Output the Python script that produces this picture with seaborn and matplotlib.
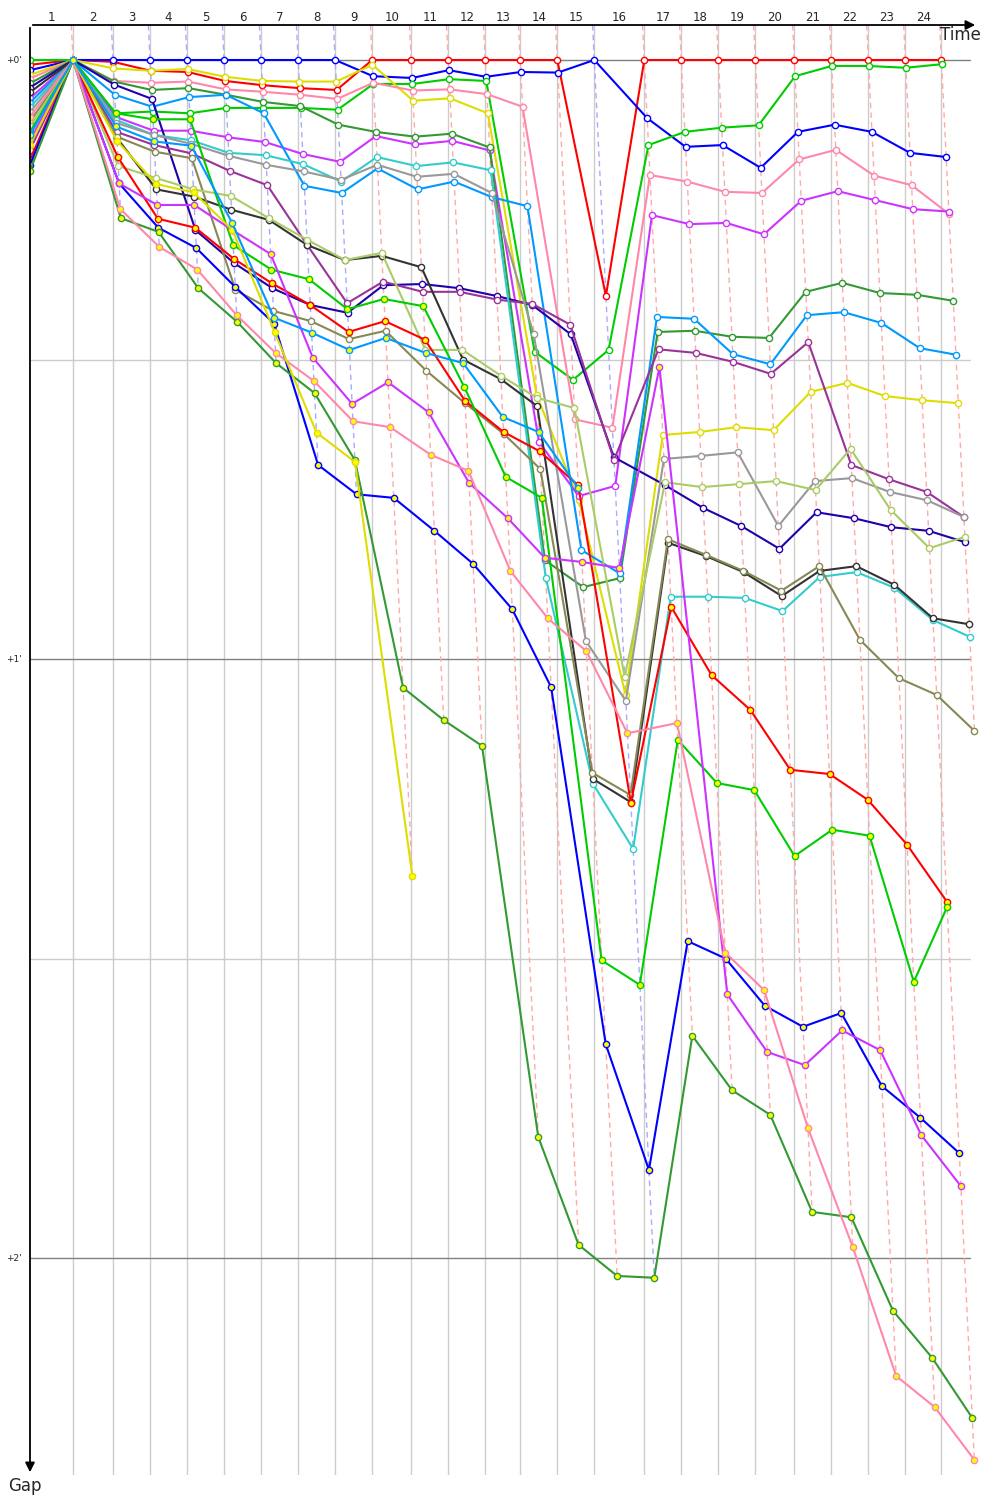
import numpy as np
import pandas as pd
import matplotlib
matplotlib.use("Agg")
import matplotlib.pyplot as plt
import matplotlib.transforms as mtransforms
import seaborn as sns

nan = np.nan

# leader lap times (seconds), laps 1..24
laps = list(range(1, 25))
lap_seconds = [87.5, 81.4, 75.3, 75.3, 75.3, 75.3, 75.3, 75.3, 75.3, 79.3, 75.3, 75.3,
               71.2, 75.3, 75.3, 101.7, 75.3, 75.3, 75.3, 79.3, 75.3, 75.3, 75.3, 73.2]

# gap to leader in minutes, index 0 = grid, then end of each lap
red_w = [0.008, 0, 0.003, 0.018, 0.02, 0.035, 0.042, 0.047, 0.05, 0, 0, 0, 0, 0, 0, 0.394,
         0, 0, 0, 0, 0, 0, 0, 0, 0]
blue_w = [0.017, 0, 0, 0, 0, 0, 0, 0, 0, 0.027, 0.03, 0.017, 0.028, 0.02, 0.021, 0,
          0.097, 0.145, 0.142, 0.18, 0.12, 0.108, 0.12, 0.155, 0.162]
green_w = [0.0, 0, 0.089, 0.086, 0.089, 0.08, 0.08, 0.08, 0.083, 0.04, 0.04, 0.032, 0.035,
           0.487, 0.534, 0.484, 0.142, 0.12, 0.113, 0.109, 0.027, 0.01, 0.01, 0.013, 0.007]
yellow_w = [0.025, 0, 0.014, 0.018, 0.015, 0.028, 0.035, 0.036, 0.036, 0.008, 0.068, 0.064,
            0.089, 0.56, 0.735, 1.06, 0.626, 0.621, 0.613, 0.618, 0.554, 0.539, 0.561, 0.568, 0.573]
pink_w = [0.031, 0, 0.035, 0.038, 0.036, 0.049, 0.053, 0.058, 0.065, 0.038, 0.051, 0.049,
          0.057, 0.078, 0.6, 0.614, 0.192, 0.203, 0.22, 0.222, 0.166, 0.15, 0.193, 0.209, 0.257]
violet_w = [0.064, 0, 0.095, 0.118, 0.118, 0.129, 0.137, 0.157, 0.17, 0.127, 0.141, 0.135,
            0.151, 0.638, 0.728, 0.711, 0.259, 0.274, 0.272, 0.291, 0.235, 0.219, 0.234, 0.249, 0.253]
dkgreen_w = [0.039, 0, 0.036, 0.05, 0.047, 0.058, 0.07, 0.077, 0.108, 0.12, 0.128, 0.123,
             0.146, 0.835, 0.88, 0.865, 0.454, 0.452, 0.462, 0.464, 0.387, 0.372, 0.389, 0.392, 0.402]
azure_w = [0.071, 0, 0.058, 0.078, 0.062, 0.058, 0.089, 0.21, 0.222, 0.181, 0.216, 0.203,
           0.229, 0.244, 0.818, 0.857, 0.429, 0.432, 0.491, 0.508, 0.426, 0.421, 0.439, 0.481, 0.492]
navy_w = [0.046, 0, 0.041, 0.065, 0.284, 0.339, 0.381, 0.409, 0.422, 0.376, 0.374, 0.381,
          0.394, 0.409, 0.458, 0.663, 0.71, 0.748, 0.778, 0.816, 0.755, 0.765, 0.78, 0.786, 0.805]
purple_w = [0.15, 0, 0.12, 0.142, 0.156, 0.185, 0.209, 0.309, 0.406, 0.37, 0.387, 0.387,
            0.4, 0.407, 0.442, 0.668, 0.483, 0.489, 0.504, 0.524, 0.471, 0.676, 0.7, 0.721, 0.763]
turq_w = [0.079, 0, 0.1, 0.125, 0.134, 0.155, 0.159, 0.174, 0.203, 0.162, 0.177, 0.171,
          0.184, 0.864, 1.208, 1.317, 0.896, 0.896, 0.898, 0.92, 0.863, 0.855, 0.881, 0.935, 0.963]
grey_w = [0.087, 0, 0.105, 0.125, 0.14, 0.16, 0.175, 0.186, 0.2, 0.175, 0.195, 0.19,
          0.222, 0.458, 0.97, 1.07, 0.666, 0.661, 0.655, 0.778, 0.703, 0.698, 0.721, 0.735, 0.763]
black_w = [0.054, 0, 0.13, 0.216, 0.228, 0.25, 0.267, 0.309, 0.334, 0.327, 0.346, 0.5,
           0.533, 0.578, 1.2, 1.239, 0.806, 0.828, 0.855, 0.895, 0.853, 0.845, 0.876, 0.932, 0.942]
olive_w = [0.103, 0, 0.128, 0.153, 0.164, 0.384, 0.419, 0.436, 0.466, 0.452, 0.519, 0.573,
           0.624, 0.683, 1.19, 1.227, 0.8, 0.826, 0.853, 0.886, 0.845, 0.968, 1.032, 1.06, 1.12]
ltolive_w = [0.111, 0, 0.177, 0.197, 0.216, 0.227, 0.264, 0.3, 0.334, 0.322, 0.484, 0.484,
             0.527, 0.564, 0.581, 1.03, 0.705, 0.713, 0.708, 0.703, 0.718, 0.649, 0.751, 0.815, 0.796]
red_y = [0.167, 0, 0.162, 0.265, 0.28, 0.332, 0.373, 0.409, 0.454, 0.436, 0.467, 0.569,
         0.621, 0.653, 0.71, 1.24, 0.913, 1.027, 1.085, 1.185, 1.192, 1.235, 1.31, 1.405, nan]
green_y = [0.12, 0, 0.089, 0.099, 0.099, 0.309, 0.35, 0.366, 0.416, 0.399, 0.411, 0.546,
           0.696, 0.731, 1.503, 1.544, 1.135, 1.207, 1.219, 1.329, 1.285, 1.295, 1.539, 1.414, nan]
blue_y = [0.175, 0, 0.206, 0.28, 0.314, 0.379, 0.44, 0.676, 0.725, 0.731, 0.786, 0.841,
          0.917, 1.047, 1.643, 1.853, 1.471, 1.5, 1.579, 1.614, 1.591, 1.713, 1.766, 1.825, nan]
violet_y = [0.134, 0, 0.206, 0.242, 0.242, 0.284, 0.324, 0.497, 0.574, 0.538, 0.588, 0.706,
            0.765, 0.831, 0.838, 0.848, 0.513, 1.56, 1.656, 1.678, 1.62, 1.653, 1.795, 1.88, nan]
dkgreen_y = [0.185, 0, 0.264, 0.287, 0.381, 0.437, 0.506, 0.556, 0.668, 1.048, 1.102, 1.145,
             1.798, 1.978, 2.03, 2.033, 1.629, 1.72, 1.761, 1.923, 1.932, 2.088, 2.167, 2.267, nan]
pink_y = [0.095, 0, 0.249, 0.312, 0.35, 0.426, 0.489, 0.536, 0.603, 0.613, 0.659, 0.686,
          0.853, 0.932, 0.987, 1.124, 1.107, 1.49, 1.553, 1.783, 1.982, 2.197, 2.249, 2.337, nan]
yellow_y = [0.142, 0, 0.135, 0.207, 0.221, 0.284, 0.454, 0.622, 0.671, 1.362] + [nan] * 15
azure_y = [0.125, 0, 0.111, 0.136, 0.143, 0.272, 0.43, 0.455, 0.484, 0.464, 0.489, 0.506,
           0.596, 0.621, 0.715] + [nan] * 10

RED, BLUE, GREEN, YELLOW = "#ff0000", "#0000ff", "#00cc00", "#dddd00"
PINK, VIOLET, DKGREEN, AZURE = "#ff88aa", "#cc33ff", "#339933", "#0099ff"
NAVY, PURPLE, TURQ, GREY = "#2200aa", "#993399", "#33cccc", "#999999"
BLACK, OLIVE, LTOLIVE = "#333333", "#888855", "#aacc66"
W, Y = "white", "#ffff00"

series = [
    (red_w, RED, W), (blue_w, BLUE, W), (green_w, GREEN, W), (yellow_w, YELLOW, W),
    (pink_w, PINK, W), (violet_w, VIOLET, W), (dkgreen_w, DKGREEN, W), (azure_w, AZURE, W),
    (navy_w, NAVY, W), (purple_w, PURPLE, W), (turq_w, TURQ, W), (grey_w, GREY, W),
    (black_w, BLACK, W), (olive_w, OLIVE, W), (ltolive_w, LTOLIVE, W),
    (red_y, RED, Y), (green_y, GREEN, Y), (blue_y, BLUE, Y), (violet_y, VIOLET, Y),
    (dkgreen_y, DKGREEN, Y), (pink_y, PINK, Y), (yellow_y, YELLOW, Y), (azure_y, AZURE, Y),
]

sns.set_style("white")
plt.rcParams["font.family"] = ["DejaVu Sans"]

fig = plt.figure(figsize=(10, 15), dpi=100)
ax = fig.add_axes([0.03, 1 - 1475 / 1500, 0.948, 1450 / 1500])

px_per_min = 29.5
gap_top = -35 / 599
gap_bottom = 1415 / 599
ax.set_xlim(0, 948 / px_per_min)
ax.set_ylim(gap_bottom, gap_top)

T = np.concatenate([[0], np.cumsum(lap_seconds) / 60])

# grid
for k in range(1, len(T)):
    ax.axvline(T[k], color="#cccccc", lw=1, zorder=1)
line_end = 940 / px_per_min
for g in [0.5, 1.5]:
    ax.plot([0, line_end], [g, g], color="#cccccc", lw=1, zorder=1)
for g in [0, 1, 2]:
    ax.plot([0, line_end], [g, g], color="#808080", lw=1, zorder=1.2)

# lap lines through the points of each lap
allg = np.array([s[0] for s in series], dtype=float)
for k in range(1, len(T)):
    col = allg[:, k]
    lead = int(np.nanargmin(col))
    dcol = "#ffaaaa" if series[lead][1] == RED else "#aaaaff"
    g = np.sort(col[~np.isnan(col)])
    g = np.concatenate([[gap_top], g])
    ax.plot(T[k] + g, g, color=dcol, lw=1, ls=(0, (4, 3)), zorder=1.5)

for gaps, color, face in series:
    g = np.array(gaps, dtype=float)
    t = T + g
    t[0] = T[0]  # grid slots sit on the start line
    ok = ~np.isnan(g)
    df = pd.DataFrame({"time": t[ok], "gap": g[ok]})
    sns.lineplot(data=df, x="time", y="gap", color=color, linewidth=1.5, marker="o",
                 markersize=4.5, markerfacecolor=face, markeredgecolor=color,
                 markeredgewidth=1, sort=False, estimator=None, ax=ax, zorder=3)

ax.set_xticks([])
ax.set_yticks([])
ax.set_xlabel("")
ax.set_ylabel("")
for s in ax.spines.values():
    s.set_visible(False)

# axis arrows
ax.annotate("", xy=(1.0, 1.0), xytext=(0, 1.0), xycoords="axes fraction",
            arrowprops=dict(arrowstyle="-|>", color="black", lw=1.3, mutation_scale=14))
ax.annotate("", xy=(0, 0.0), xytext=(0, 1.0), xycoords="axes fraction",
            arrowprops=dict(arrowstyle="-|>", color="black", lw=1.3, mutation_scale=14))

trans_x = mtransforms.blended_transform_factory(ax.transData, ax.transAxes)
for i, lap in enumerate(laps):
    ax.text((T[i] + T[i + 1]) / 2, 1.0055, str(lap), transform=trans_x,
            ha="center", va="center", fontsize=8.5)

trans_y = mtransforms.blended_transform_factory(ax.transAxes, ax.transData)
for g in [0, 1, 2]:
    ax.text(-0.009, g, f"+{g}'", transform=trans_y, ha="right", va="center", fontsize=6.5)

fig.text(0.96, 1 - 35 / 1500, "Time", ha="center", va="center", fontsize=12)
fig.text(0.025, 1 - 1486 / 1500, "Gap", ha="center", va="center", fontsize=12)

fig.savefig("out.png", dpi=100)
